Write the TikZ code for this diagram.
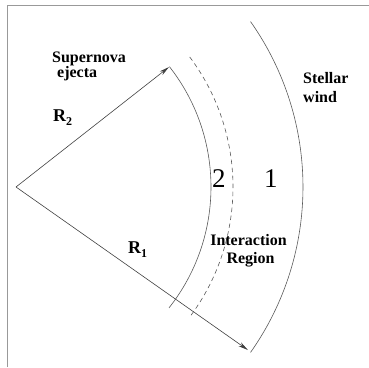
\documentclass[tikz,border=0pt]{standalone}
\usepackage{fontspec}
\setmainfont{Liberation Serif}
\usetikzlibrary{arrows.meta,calc}
\begin{document}
\begin{tikzpicture}[x=1pt,y=1pt,
  frameline/.style={draw=black!40,line width=1.5pt},
  shell/.style={draw=black!65,line width=0.6pt},
  radline/.style={draw=black!75,line width=0.6pt,-{Stealth[length=10pt,width=4.5pt]}},
  lbl/.style={font=\fontsize{16}{18}\selectfont\bfseries,inner sep=0pt,anchor=base west},
  zone/.style={font=\fontsize{27}{30}\selectfont,inner sep=0pt,anchor=base west}]
\useasboundingbox (0,0) rectangle (369,367);
% frame
\coordinate (fb) at (7.5,0);
\coordinate (fc) at (7.5,361.5);
\coordinate (fr) at (369,361.5);
\draw[frameline] (fb) -- (fc) -- (fr);
% centre
\coordinate (O) at (16,180);
% arcs
\draw[shell] ($(O)+(-38.3:195)$) arc[start angle=-38.3,end angle=38.1,radius=195];
\draw[shell,dash pattern=on 4.5pt off 3.5pt] ($(O)+(-36.2:217)$) arc[start angle=-36.2,end angle=37.2,radius=217];
\draw[shell] ($(O)+(-35.2:287)$) arc[start angle=-35.2,end angle=35.2,radius=287];
% radii
\coordinate (T2) at ($(O)+(38.1:194.4)$);
\coordinate (T1) at ($(O)+(-35.1:283.5)$);
\draw[radline] (O) -- (T2);
\draw[radline] (O) -- (T1);
% labels
\node[lbl] (sn) at (52,304) {Supernova};
\node[lbl] (ej) at (57,289) {ejecta};
\node[lbl] (st) at (303,283) {Stellar};
\node[lbl] (wi) at (303,264) {wind};
\node[lbl,anchor=base] (ir) at (248.5,122) {Interaction};
\node[lbl,anchor=base] (rg) at (250.5,104) {Region};
\node[lbl,font=\fontsize{18}{20}\selectfont\bfseries] (r2) at (53,245) {R\raisebox{-4pt}{\fontsize{12}{14}\selectfont 2}};
\node[lbl,font=\fontsize{18}{20}\selectfont\bfseries] (r1) at (128,114) {R\raisebox{-4pt}{\fontsize{12}{14}\selectfont 1}};
\node[zone] (z2) at (212,179) {2};
\node[zone] (z1) at (264,179) {1};
\end{tikzpicture}
\end{document}
